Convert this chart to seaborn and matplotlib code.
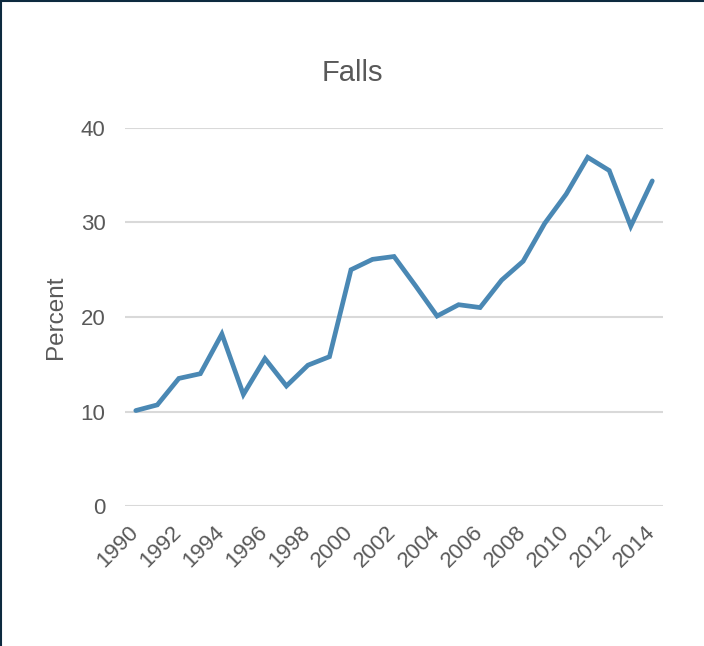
import matplotlib
matplotlib.use('Agg')
import matplotlib.pyplot as plt
import matplotlib.transforms as mtransforms
import pandas as pd
import seaborn as sns

years = list(range(1990, 2015))
percent = [10.1, 10.7, 13.5, 14.0, 18.2, 11.8, 15.6, 12.7, 14.9, 15.8,
           25.0, 26.1, 26.4, 23.3, 20.1, 21.3, 21.0, 23.9, 25.9, 29.9,
           33.0, 36.9, 35.5, 29.6, 34.4]
year_ticks = list(range(1990, 2015, 2))
y_ticks = [0, 10, 20, 30, 40]

df = pd.DataFrame({'Year': years, 'Percent': percent})

sns.set_theme(style='white')
plt.rcParams['font.family'] = ['Liberation Sans', 'DejaVu Sans']
text_grey = '#595959'

fig = plt.figure(figsize=(7.04, 6.46), dpi=100)
ax = fig.add_axes([0.1776, 0.2167, 0.9418 - 0.1776, 0.8019 - 0.2167])

for v in y_ticks:
    ax.axhline(v, color='#d9d9d9', linewidth=1.5, zorder=0)

sns.lineplot(data=df, x='Year', y='Percent', ax=ax, color='#4a88b4', linewidth=3.4,
             solid_capstyle='round', solid_joinstyle='miter')

ax.set_xlim(1989.5, 2014.5)
ax.set_ylim(0, 40)
ax.set_yticks(y_ticks)
ax.set_xticks(year_ticks)
ax.set_xticklabels([str(y) for y in year_ticks], rotation=45, ha='right',
                   rotation_mode='anchor')
ax.tick_params(axis='y', length=0, pad=14, labelsize=16, labelcolor=text_grey)
ax.tick_params(axis='x', length=0, pad=11.5, labelsize=16, labelcolor=text_grey)
# nudge the rotated year labels a little to the left
shift = mtransforms.ScaledTranslation(-0.08, 0, fig.dpi_scale_trans)
for lab in ax.get_xticklabels():
    lab.set_transform(lab.get_transform() + shift)
for s in ax.spines.values():
    s.set_visible(False)

ax.set_xlabel('')
ax.set_ylabel('Percent', fontsize=17.5, color=text_grey, labelpad=10)
ax.set_title('Falls', fontsize=21, color=text_grey, pad=34, x=0.422)

# thin dark border on the left and top edges
fig.add_artist(plt.Line2D([0.001, 0.001], [0, 1], color='#0d2a3f', linewidth=1.5))
fig.add_artist(plt.Line2D([0, 1], [0.999, 0.999], color='#0d2a3f', linewidth=1.5))

fig.savefig('out.png', dpi=100)
